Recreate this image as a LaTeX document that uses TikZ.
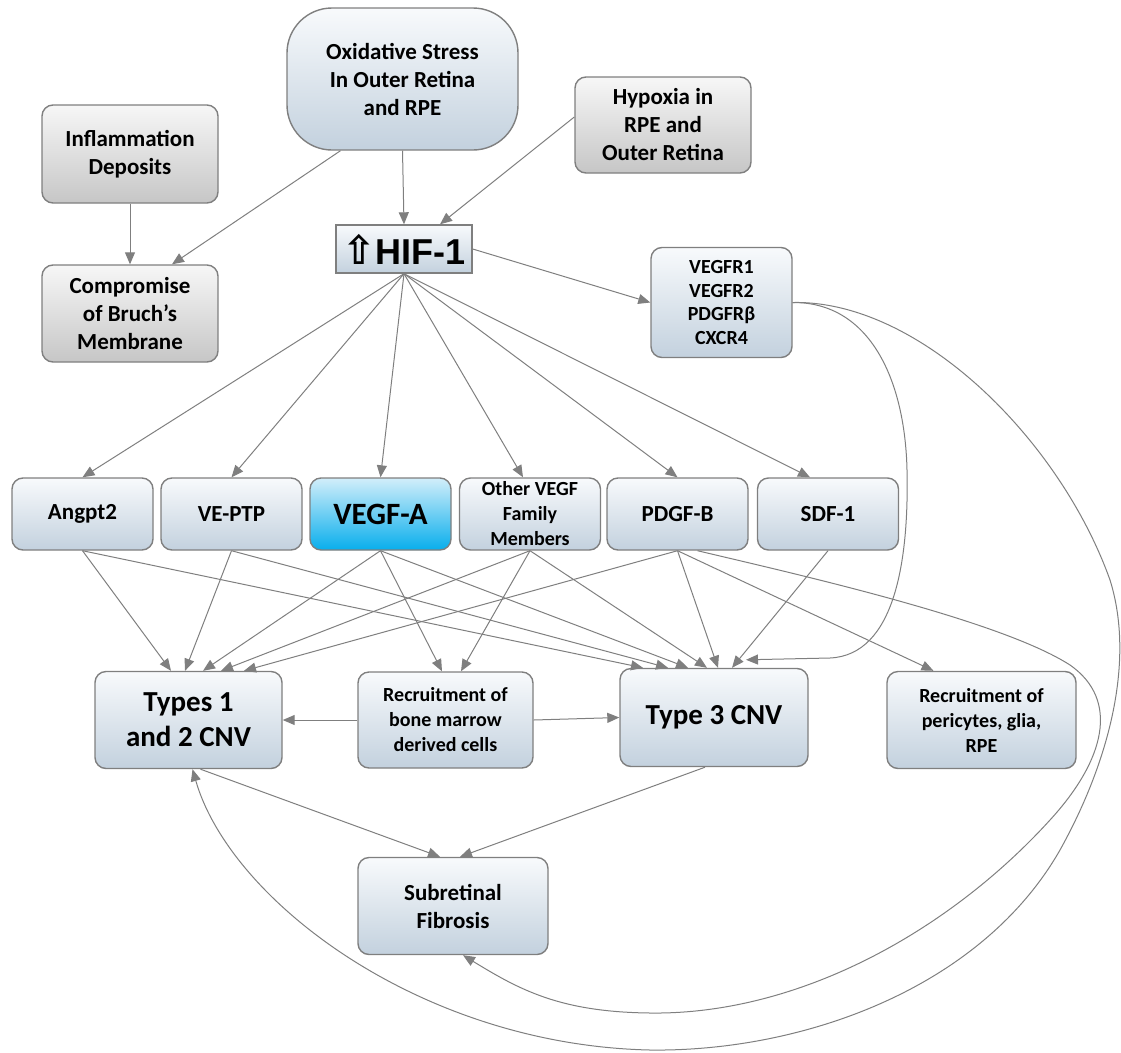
\documentclass[tikz,border=0pt]{standalone}
\usepackage{fontspec}
\setmainfont{Carlito}
\newfontfamily\hiffont{Liberation Sans}
\newfontfamily\upfont{DejaVu Sans}
\usetikzlibrary{arrows.meta}
\definecolor{edgegray}{HTML}{7F7F7F}
\definecolor{bluetop}{HTML}{F8FAFC}
\definecolor{bluebot}{HTML}{C3D1DE}
\definecolor{graytop}{HTML}{F7F7F7}
\definecolor{graybot}{HTML}{C6C6C6}
\definecolor{cyantop}{HTML}{D2EEFA}
\definecolor{cyanbot}{HTML}{08AEEC}
\tikzstyle{bluebox} = [draw=edgegray, line width=1.4pt, rectangle, rounded corners=11pt,
    top color=bluetop, bottom color=bluebot, align=center, inner sep=0pt]
\tikzstyle{graybox} = [bluebox, top color=graytop, bottom color=graybot]
\tikzstyle{rowbox} = [bluebox, minimum width=141pt, minimum height=72pt]
\tikzstyle{bigtext} = [font=\bfseries\fontsize{29}{35}\selectfont]
\tikzstyle{midtext} = [font=\bfseries\fontsize{23}{28}\selectfont]
\tikzstyle{smalltext} = [font=\bfseries\fontsize{20}{25}\selectfont]
\tikzstyle{tinytext} = [font=\bfseries\fontsize{20}{23.5}\selectfont]
\tikzstyle{link} = [draw=edgegray, line width=1pt, -{Triangle[length=12pt,width=10pt]}]

\begin{document}
\begin{tikzpicture}[x=1pt,y=-1pt]
    \useasboundingbox (0,0) rectangle (1121,1052);
    % causes
    \node[bluebox, rounded corners=45pt, midtext, minimum width=231pt, minimum height=142pt] (oxid) at (402.5,79) {Oxidative Stress\\In Outer Retina\\and RPE};
    \node[graybox, midtext, minimum width=176pt, minimum height=96pt] (hypox) at (663,125) {Hypoxia in\\RPE and\\Outer Retina};
    \node[graybox, midtext, minimum width=176pt, minimum height=98pt] (infl) at (130,154) {Inflammation\\Deposits};
    \node[graybox, midtext, minimum width=176pt, minimum height=97pt] (bruch) at (130,313.5) {Compromise\\of Bruch’s\\Membrane};
    \node[bluebox, sharp corners, minimum width=136pt, minimum height=48pt, font=\bfseries\fontsize{36}{40}\selectfont] (hif) at (404,249) {{\upfont\fontsize{40}{40}\selectfont ⇧}{\hiffont HIF-1}};
    \node[bluebox, tinytext, minimum width=141pt, minimum height=110pt] (vegfr) at (721.5,302.5) {VEGFR1\\VEGFR2\\PDGFRβ\\CXCR4};
    % growth factors
    \node[rowbox, midtext] (angpt) at (82.5,514) {Angpt2};
    \node[rowbox, midtext] (veptp) at (231.5,514) {VE-PTP};
    \node[rowbox, top color=cyantop, bottom color=cyanbot, font=\bfseries\fontsize{31}{36}\selectfont] (vegfa) at (380.5,514) {VEGF-A};
    \node[rowbox, smalltext] (other) at (530,514) {Other VEGF\\Family\\Members};
    \node[rowbox, midtext] (pdgfb) at (677.5,514) {PDGF-B};
    \node[rowbox, midtext] (sdf) at (828,514) {SDF-1};
    % outcomes
    \node[bluebox, bigtext, minimum width=187pt, minimum height=97pt] (cnvone) at (188.5,720) {Types 1\\and 2 CNV};
    \node[bluebox, smalltext, minimum width=175pt, minimum height=96pt] (marrow) at (445.5,720) {Recruitment of\\bone marrow\\derived cells};
    \node[bluebox, bigtext, minimum width=188pt, minimum height=98pt] (cnvthree) at (714,717.5) {Type 3 CNV};
    \node[bluebox, smalltext, minimum width=189pt, minimum height=97pt] (pericyte) at (981.5,720) {Recruitment of\\pericytes, glia,\\RPE};
    \node[bluebox, midtext, minimum width=190pt, minimum height=97pt] (fibrosis) at (453,906) {Subretinal\\Fibrosis};

    % top links
    \draw[link] (infl.south) -- (bruch.north);
    \draw[link] ([xshift=-62pt]oxid.south) -- ([xshift=42pt]bruch.north);
    \draw[link] (oxid.south) -- (hif.north);
    \draw[link] ([yshift=8pt]hypox.west) -- ([xshift=36pt]hif.north);
    \draw[link] (hif.east) -- (vegfr.west);
    \draw[link] (hif.south) -- (angpt.north);
    \draw[link] (hif.south) -- (veptp.north);
    \draw[link] (hif.south) -- (vegfa.north);
    \draw[link] (hif.south) -- ([xshift=-7pt]other.north);
    \draw[link] (hif.south) -- (pdgfb.north);
    \draw[link] (hif.south) -- ([xshift=-18pt]sdf.north);
    % into types 1 and 2
    \draw[link] (angpt.south) -- ([xshift=-17.5pt]cnvone.north);
    \draw[link] (veptp.south) -- ([xshift=-3.5pt]cnvone.north);
    \draw[link] (vegfa.south) -- ([xshift=14.5pt]cnvone.north);
    \draw[link] (other.south) -- ([xshift=32.5pt]cnvone.north);
    \draw[link] (pdgfb.south) -- ([xshift=55.5pt]cnvone.north);
    % into type 3
    \draw[link] (angpt.south) -- ([xshift=-71pt]cnvthree.north);
    \draw[link] (veptp.south) -- ([xshift=-46pt]cnvthree.north);
    \draw[link] (vegfa.south) -- ([xshift=-26pt]cnvthree.north);
    \draw[link] (other.south) -- ([xshift=-7pt]cnvthree.north);
    \draw[link] (pdgfb.south) -- ([xshift=4pt]cnvthree.north);
    \draw[link] (sdf.south) -- ([xshift=18pt]cnvthree.north);
    % bone marrow cells and pericytes
    \draw[link] (vegfa.south) -- ([xshift=-3.5pt]marrow.north);
    \draw[link] (other.south) -- ([xshift=15.5pt]marrow.north);
    \draw[link] (pdgfb.south) -- ([xshift=-48pt]pericyte.north);
    \draw[link] (marrow.west) -- (cnvone.east);
    \draw[link] (marrow.east) -- (cnvthree.west);
    % fibrosis
    \draw[link] ([xshift=12pt]cnvone.south) -- ([xshift=-13pt]fibrosis.north);
    \draw[link] ([xshift=-9pt]cnvthree.south) -- ([xshift=7pt]fibrosis.north);
    % long curves
    \draw[link] (vegfr.east) .. controls (870,302) and (905,380) .. (907,470)
        .. controls (909,560) and (895,655) .. (830,658) -- ([xshift=32pt,yshift=8pt]cnvthree.north);
    \draw[link] (vegfr.east) .. controls (920,300) and (1060,440) .. (1110,580)
        .. controls (1135,660) and (1110,760) .. (1060,850)
        .. controls (980,990) and (800,1052) .. (650,1050)
        .. controls (420,1045) and (230,900) .. ([xshift=4pt]cnvone.south);
    \draw[link] ([xshift=20pt]pdgfb.south) .. controls (800,575) and (1000,620) .. (1070,665)
        .. controls (1120,700) and (1105,760) .. (1050,820)
        .. controls (950,930) and (800,1015) .. (650,1013)
        .. controls (560,1012) and (520,990) .. ([xshift=10pt]fibrosis.south);
\end{tikzpicture}
\end{document}
